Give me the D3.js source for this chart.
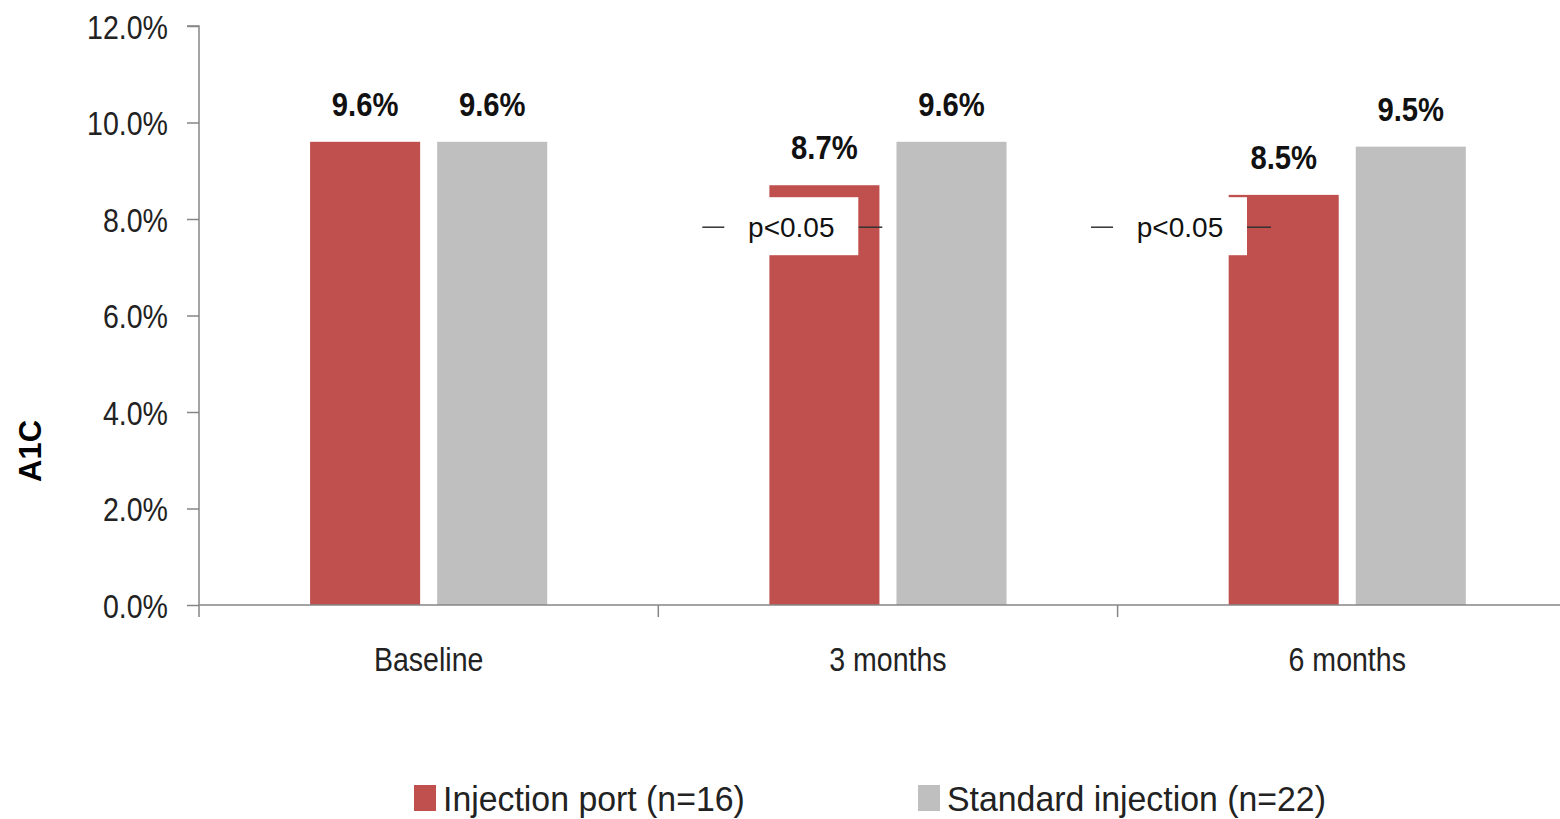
<!DOCTYPE html>
<html>
<head>
<meta charset="utf-8">
<script src="https://cdn.jsdelivr.net/npm/d3@7"></script>
<style>
  html, body { margin: 0; padding: 0; background: #fff; }
  svg { display: block; }
</style>
</head>
<body>
<svg id="chart" width="1560" height="819"></svg>
<script>
// A1C over time, injection port vs standard injection
const categories = ["Baseline", "3 months", "6 months"];
const seriesNames = ["Injection port (n=16)", "Standard injection (n=22)"];
const injectionPort = [9.6, 8.7, 8.5];
const standardInjection = [9.6, 9.6, 9.5];
const yTicks = [0, 2, 4, 6, 8, 10, 12];
const sigCategories = ["3 months", "6 months"];
const sigValues = [7.83, 7.83];
const sigLabels = ["p<0.05", "p<0.05"];
const colors = ["#C0504D", "#BFBFBF"];

const sans = "'Liberation Sans', Arial, sans-serif";

// Draw a text squeezed horizontally (condensed look) around its anchor point
function condensed(sel, px, py, sx) {
  sel.attr("x", 0).attr("y", 0)
    .attr("transform", function (d, i) {
      const tx = typeof px === "function" ? px(d, i) : px;
      const ty = typeof py === "function" ? py(d, i) : py;
      const s = typeof sx === "function" ? sx(d, i) : sx;
      return `translate(${tx},${ty}) scale(${s},1)`;
    });
  return sel;
}

const svg = d3.select("#chart");
const plotLeft = 199, plotTop = 26, plotBottom = 605;
const bandStep = 459.3;

const x = d3.scaleBand()
  .domain(categories)
  .range([plotLeft, plotLeft + bandStep * categories.length])
  .paddingInner(0).paddingOuter(0);

const xSeries = d3.scaleBand()
  .domain(seriesNames)
  .range([0, x.bandwidth()])
  .paddingInner(0.134)
  .paddingOuter(0.874);

const y = d3.scaleLinear().domain([0, 12]).range([plotBottom, plotTop]);

const axisColor = "#868686";

// Bars
const rows = categories.map((c, i) => ({ category: c, values: [injectionPort[i], standardInjection[i]] }));
const groups = svg.append("g").selectAll("g")
  .data(rows).join("g")
  .attr("transform", d => `translate(${x(d.category)},0)`);

groups.selectAll("rect")
  .data(d => d.values.map((v, j) => ({ name: seriesNames[j], value: v, color: colors[j] })))
  .join("rect")
  .attr("x", d => xSeries(d.name))
  .attr("y", d => y(d.value))
  .attr("width", xSeries.bandwidth())
  .attr("height", d => y(0) - y(d.value))
  .attr("fill", d => d.color);

// Value labels
groups.selectAll("text.val")
  .data(d => d.values.map((v, j) => ({ name: seriesNames[j], value: v })))
  .join("text")
  .attr("class", "val")
  .attr("text-anchor", "middle")
  .attr("font-family", sans)
  .attr("font-weight", "bold")
  .attr("font-size", 34)
  .attr("fill", "#111")
  .text(d => d.value.toFixed(1) + "%")
  .call(condensed, d => xSeries(d.name) + xSeries.bandwidth() / 2, d => y(d.value) - 26, 0.86);

// Significance markers (dash – label box – dash), nudged per group
const sigShift = [44, -26.6];
const significance = sigCategories.map((c, i) => ({ category: c, value: sigValues[i], label: sigLabels[i], shift: sigShift[i] }));
const sig = svg.append("g").selectAll("g")
  .data(significance).join("g")
  .attr("transform", d => `translate(${x(d.category) + d.shift},${y(d.value)})`);

sig.append("line")
  .attr("x1", 0).attr("x2", 22).attr("y1", 0).attr("y2", 0)
  .attr("stroke", "#333").attr("stroke-width", 1.5);
sig.append("line")
  .attr("x1", 156).attr("x2", 180).attr("y1", 0).attr("y2", 0)
  .attr("stroke", "#333").attr("stroke-width", 1.5);
sig.append("rect")
  .attr("x", 24).attr("y", -30).attr("width", 132).attr("height", 58)
  .attr("fill", "#fff");
sig.append("text")
  .attr("x", 89).attr("y", 10)
  .attr("text-anchor", "middle")
  .attr("font-family", sans)
  .attr("font-size", 28)
  .attr("fill", "#111")
  .text(d => d.label);

// Y axis
const yAxis = svg.append("g")
  .attr("transform", `translate(${plotLeft},0)`)
  .call(d3.axisLeft(y).tickValues(yTicks).tickSize(12).tickPadding(19)
    .tickFormat(d => d.toFixed(1) + "%"));
yAxis.select(".domain").attr("stroke", axisColor).attr("stroke-width", 1.5)
  .attr("d", `M-12,${y(12)}H0V${y(0)}`);
yAxis.selectAll(".tick line").attr("stroke", axisColor).attr("stroke-width", 1.5);
yAxis.selectAll(".tick text")
  .attr("font-family", sans).attr("font-size", 34).attr("fill", "#222")
  .attr("dy", null)
  .call(condensed, -31, 12, 0.84);

// X axis
const boundaries = categories.map(c => x(c)).concat([x.range()[1]]);
const xAxis = svg.append("g");
xAxis.append("line")
  .attr("x1", plotLeft).attr("x2", x.range()[1])
  .attr("y1", y(0)).attr("y2", y(0))
  .attr("stroke", axisColor).attr("stroke-width", 1.5);
xAxis.selectAll("line.tick")
  .data(boundaries).join("line")
  .attr("class", "tick")
  .attr("x1", d => d).attr("x2", d => d)
  .attr("y1", y(0)).attr("y2", y(0) + 12)
  .attr("stroke", axisColor).attr("stroke-width", 1.5);
xAxis.selectAll("text")
  .data(categories).join("text")
  .attr("text-anchor", "middle")
  .attr("font-family", sans).attr("font-size", 34).attr("fill", "#222")
  .text(d => d)
  .call(condensed, d => x(d) + x.bandwidth() / 2, y(0) + 66, 0.84);

// Y axis title
svg.append("text")
  .attr("transform", "translate(41,451) rotate(-90)")
  .attr("text-anchor", "middle")
  .attr("font-family", sans).attr("font-weight", "bold").attr("font-size", 31)
  .attr("fill", "#000")
  .text("A1C");

// Legend
const legendX = [414, 918];
const legend = svg.append("g").selectAll("g")
  .data(seriesNames).join("g")
  .attr("transform", (d, i) => `translate(${legendX[i]},785)`);
legend.append("rect")
  .attr("width", 22).attr("height", 26)
  .attr("fill", (d, i) => colors[i]);
legend.append("text")
  .attr("font-family", sans).attr("font-size", 36).attr("fill", "#222")
  .text(d => d)
  .call(condensed, 29, 26, 0.94);
</script>
</body>
</html>
